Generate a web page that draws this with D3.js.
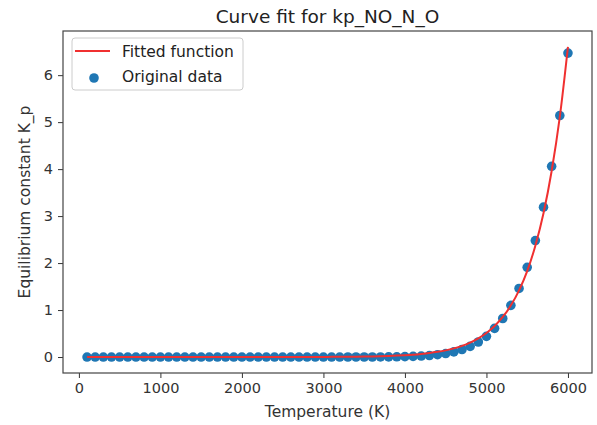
<!DOCTYPE html>
<html>
<head>
<meta charset="utf-8">
<script src="https://cdn.jsdelivr.net/npm/d3@7"></script>
<style>
  body { margin: 0; background: #fff; }
  text { font-family: "DejaVu Sans", sans-serif; }
</style>
</head>
<body>
<div id="chart"></div>
<script>
// data
const temps = [100, 200, 300, 400, 500, 600, 700, 800, 900, 1000,
  1100, 1200, 1300, 1400, 1500, 1600, 1700, 1800, 1900, 2000,
  2100, 2200, 2300, 2400, 2500, 2600, 2700, 2800, 2900, 3000,
  3100, 3200, 3300, 3400, 3500, 3600, 3700, 3800, 3900, 4000,
  4100, 4200, 4300, 4400, 4500, 4600, 4700, 4800, 4900, 5000,
  5100, 5200, 5300, 5400, 5500, 5600, 5700, 5800, 5900, 6000];

const kpData = [0, 0, 0, 0, 0, 0, 0, 0, 0, 0,
  0, 0, 0, 0, 0, 0, 0, 0, 0, 0,
  0, 0, 0, 0, 0, 0, 0, 0, 0, 0,
  0.0001, 0.0001, 0.0002, 0.0004, 0.0006, 0.0009, 0.0016, 0.0028, 0.0048, 0.008,
  0.013, 0.021, 0.032, 0.049, 0.074, 0.109, 0.159, 0.226, 0.32, 0.44,
  0.61, 0.82, 1.10, 1.46, 1.91, 2.48, 3.19, 4.06, 5.14, 6.47];

const kpFit = [0, 0, 0, 0, 0, 0, 0, 0, 0, 0,
  0, 0, 0, 0, 0, 0, 0, 0, 0.0001, 0.0002,
  0.0002, 0.0003, 0.0004, 0.0005, 0.0007, 0.0009, 0.0012, 0.0015, 0.002, 0.0026,
  0.0034, 0.0044, 0.0057, 0.0074, 0.0098, 0.013, 0.018, 0.024, 0.031, 0.040,
  0.051, 0.066, 0.085, 0.110, 0.142, 0.184, 0.237, 0.307, 0.396, 0.51,
  0.66, 0.853, 1.10, 1.42, 1.83, 2.37, 3.06, 3.96, 5.11, 6.60];

const xTicks = [0, 1000, 2000, 3000, 4000, 5000, 6000];
const yTicks = [0, 1, 2, 3, 4, 5, 6];

const width = 597, height = 425;
const margin = {top: 31, right: 5, bottom: 52, left: 63};

const svg = d3.select("#chart")
  .append("svg")
  .attr("width", width)
  .attr("height", height);

// scales (matplotlib style 5% padding)
const x = d3.scaleLinear()
  .domain([-195, 6295])
  .range([margin.left, width - margin.right]);

const y = d3.scaleLinear()
  .domain([-0.34, 6.94])
  .range([height - margin.bottom, margin.top]);

// x axis
const gx = svg.append("g")
  .attr("transform", `translate(0,${height - margin.bottom})`)
  .call(d3.axisBottom(x).tickValues(xTicks).tickSize(5).tickPadding(5).tickFormat(d3.format("d")));
gx.select(".domain").remove();
gx.selectAll("line").attr("stroke", "#333");
gx.selectAll("text").attr("font-size", "14.5px").attr("fill", "#333")
  .attr("font-family", "DejaVu Sans, sans-serif");

// y axis
const gy = svg.append("g")
  .attr("transform", `translate(${margin.left},0)`)
  .call(d3.axisLeft(y).tickValues(yTicks).tickSize(5).tickPadding(5));
gy.select(".domain").remove();
gy.selectAll("line").attr("stroke", "#333");
gy.selectAll("text").attr("font-size", "14.5px").attr("fill", "#333")
  .attr("font-family", "DejaVu Sans, sans-serif");

// frame
svg.append("rect")
  .attr("x", margin.left)
  .attr("y", margin.top)
  .attr("width", width - margin.left - margin.right)
  .attr("height", height - margin.top - margin.bottom)
  .attr("fill", "none")
  .attr("stroke", "#444")
  .attr("stroke-width", 1.2);

// points
svg.append("g")
  .selectAll("circle")
  .data(temps)
  .enter()
  .append("circle")
  .attr("cx", (d) => x(d))
  .attr("cy", (d, i) => y(kpData[i]))
  .attr("r", 4.8)
  .attr("fill", "#1f77b4");

// fitted line
const line = d3.line()
  .x((d) => x(d))
  .y((d, i) => y(kpFit[i]))
  .curve(d3.curveMonotoneX);

svg.append("path")
  .datum(temps)
  .attr("d", line)
  .attr("fill", "none")
  .attr("stroke", "#f03030")
  .attr("stroke-width", 2);

// title and labels
svg.append("text")
  .attr("x", (margin.left + width - margin.right) / 2)
  .attr("y", 23)
  .attr("text-anchor", "middle")
  .attr("font-size", "18.5px")
  .attr("fill", "#222")
  .text("Curve fit for kp_NO_N_O");

svg.append("text")
  .attr("x", (margin.left + width - margin.right) / 2)
  .attr("y", 417)
  .attr("text-anchor", "middle")
  .attr("font-size", "15.5px")
  .attr("fill", "#333")
  .text("Temperature (K)");

svg.append("text")
  .attr("transform", `translate(30,${(margin.top + height - margin.bottom) / 2}) rotate(-90)`)
  .attr("text-anchor", "middle")
  .attr("font-size", "15.5px")
  .attr("fill", "#333")
  .text("Equilibrium constant K_p");

// legend
const legend = svg.append("g");
legend.append("rect")
  .attr("x", 72).attr("y", 38)
  .attr("width", 171).attr("height", 52)
  .attr("rx", 3)
  .attr("fill", "#fff")
  .attr("fill-opacity", 0.8)
  .attr("stroke", "#ccc");
legend.append("line")
  .attr("x1", 75).attr("x2", 110)
  .attr("y1", 51).attr("y2", 51)
  .attr("stroke", "#f03030")
  .attr("stroke-width", 2);
legend.append("text")
  .attr("x", 122).attr("y", 57)
  .attr("font-size", "15.5px")
  .attr("fill", "#222")
  .text("Fitted function");
legend.append("circle")
  .attr("cx", 94).attr("cy", 78)
  .attr("r", 4.8)
  .attr("fill", "#1f77b4");
legend.append("text")
  .attr("x", 122).attr("y", 82)
  .attr("font-size", "15.5px")
  .attr("fill", "#222")
  .text("Original data");
</script>
</body>
</html>
